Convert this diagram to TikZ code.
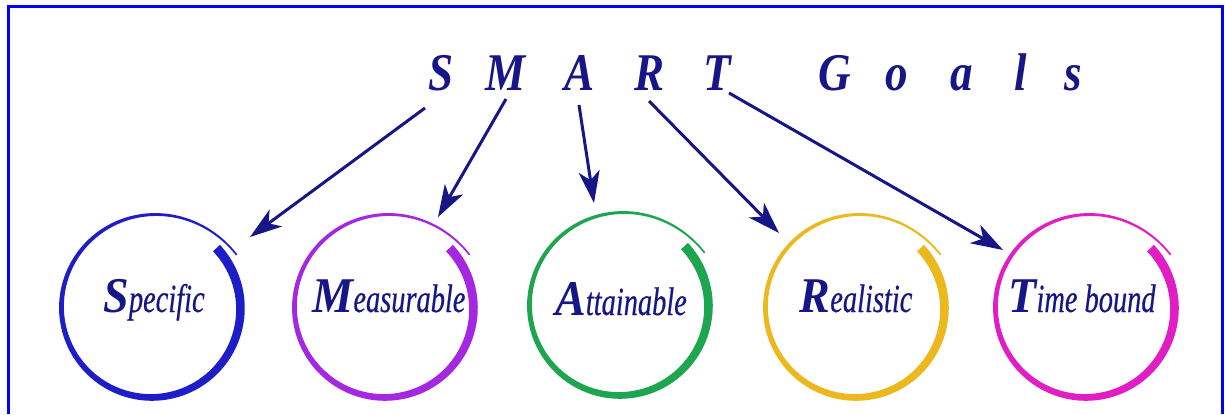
\documentclass[tikz,border=0pt]{standalone}
\usepackage{fontspec}
\setmainfont{Liberation Serif}
\newfontfamily\ttlfont{Liberation Serif}[FakeStretch=0.85]
\newfontfamily\capfont{Liberation Serif}[FakeStretch=0.92]
\newfontfamily\lowfont{Liberation Serif}[FakeStretch=0.71,FakeBold=0.4]
\usetikzlibrary{arrows.meta}
\definecolor{navy}{RGB}{22,22,135}
\definecolor{ringS}{RGB}{30,30,200}
\definecolor{ringM}{RGB}{165,40,225}
\definecolor{ringA}{RGB}{30,165,80}
\definecolor{ringR}{RGB}{235,185,30}
\definecolor{ringT}{RGB}{225,30,195}
\definecolor{frameblue}{RGB}{0,0,255}
\newcommand\ringcap[1]{{\capfont\bfseries\itshape\fontsize{25}{28}\selectfont #1}}
\newcommand\ringlow[1]{{\lowfont\itshape\fontsize{20}{24}\selectfont #1}}
\newcommand\brushring[3]{%
  \fill[#3] plot[domain=0:1,samples=160,variable=\t]
    ({#1+(rr(\t)+ww(\t)/2)*cos(43-371*\t)},{#2-(rr(\t)+ww(\t)/2)*sin(43-371*\t)})
    -- plot[domain=1:0,samples=160,variable=\t]
    ({#1+(rr(\t)-ww(\t)/2)*cos(43-371*\t)},{#2-(rr(\t)-ww(\t)/2)*sin(43-371*\t)})
    -- cycle;}
\tikzset{
  ttl/.style={anchor=base,inner sep=0pt,text=navy,font=\ttlfont\bfseries\itshape\fontsize{26.5}{30}\selectfont},
  lbl/.style={anchor=base,inner sep=0pt,text=navy},
  arr/.style={draw=navy,line width=1.5pt,-{Stealth[length=16pt,width=10.5pt,inset=4.5pt]}},
  frame/.style={draw=frameblue,line width=1.5pt}
}
\begin{document}
\begin{tikzpicture}[x=0.5pt,y=-0.5pt,
  declare function={rr(\t)=88+4*\t+8*\t^8; ww(\t)=9.5-7.8*\t;}]
\useasboundingbox (0,0) rectangle (1225,414);
\fill[white] (0,0) rectangle (1225,414);
\draw[frame] (8.5,414) -- (8.5,6.5) -- (1222.5,6.5) -- (1222.5,414);

% title
\node[ttl] (tS) at (441,90) {S};
\node[ttl] (tM) at (506,90) {M};
\node[ttl] (tA) at (580,90) {A};
\node[ttl] (tR) at (650,90) {R};
\node[ttl] (tT) at (717,90) {T};
\node[ttl] (tG) at (835,90) {G};
\node[ttl] (to) at (897,90) {o};
\node[ttl] (ta) at (962,90) {a};
\node[ttl] (tl) at (1021,90) {l};
\node[ttl] (ts) at (1073,90) {s};

% rings
\brushring{152}{308}{ringS}
\brushring{385}{308}{ringM}
\brushring{620}{306}{ringA}
\brushring{856}{308}{ringR}
\brushring{1086}{308}{ringT}

% labels
\node[lbl] (lS) at (154,312) {\ringcap{S}\ringlow{pecific}};
\node[lbl] (lM) at (389,312) {\ringcap{M}\ringlow{easurable}};
\node[lbl] (lA) at (621,315) {\ringcap{A}\ringlow{ttainable}};
\node[lbl] (lR) at (856,312) {\ringcap{R}\ringlow{ealistic}};
\node[lbl] (lT) at (1082,312) {\ringcap{T}\ringlow{ime bound}};

% arrow ends
\coordinate (sS) at (425,108); \coordinate (eS) at (250,237);
\coordinate (sM) at (506,99);  \coordinate (eM) at (438,217);
\coordinate (sA) at (579,105); \coordinate (eA) at (594,203);
\coordinate (sR) at (649,101); \coordinate (eR) at (779,233);
\coordinate (sT) at (729,93);  \coordinate (eT) at (1003,250);
\draw[arr] (sS) -- (eS);
\draw[arr] (sM) -- (eM);
\draw[arr] (sA) -- (eA);
\draw[arr] (sR) -- (eR);
\draw[arr] (sT) -- (eT);
\end{tikzpicture}
\end{document}
